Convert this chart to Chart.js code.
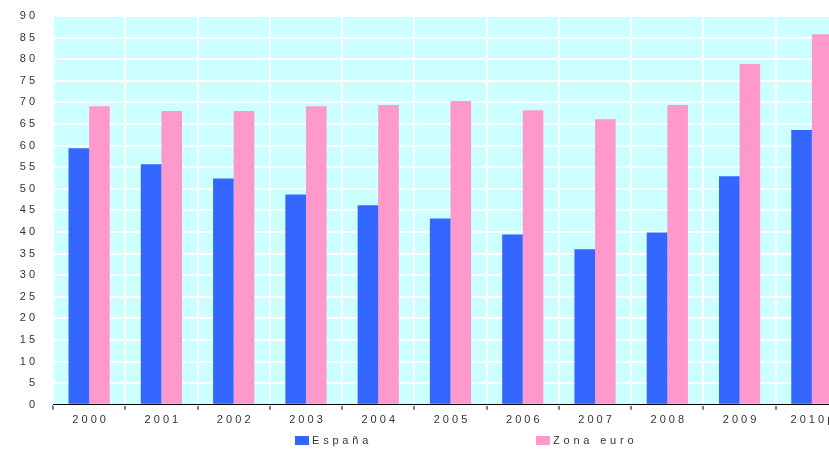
<!DOCTYPE html>
<html>
<head>
<meta charset="utf-8">
<script src="https://cdn.jsdelivr.net/npm/chart.js@4"></script>
<style>
  html, body { margin: 0; padding: 0; background: #fff; overflow: hidden; }
  #wrap { position: relative; width: 851px; height: 449px; }
  .legend { position: absolute; top: 434px; font: 11px "Liberation Sans", Arial, sans-serif; color: #333; letter-spacing: 3.8px; white-space: nowrap; }
  .legend span.sw { display: inline-block; width: 14px; height: 9px; vertical-align: -1px; margin-right: 3px; }
</style>
</head>
<body>
<div id="wrap">
  <canvas id="progress-chart" width="851" height="449"></canvas>
  <div class="legend" style="left:295px"><span class="sw" style="background:#3366FF"></span>España</div>
  <div class="legend" style="left:536px"><span class="sw" style="background:#FF99CC"></span>Zona euro</div>
</div>
<script>
const years = ["2000", "2001", "2002", "2003", "2004", "2005", "2006", "2007", "2008", "2009", "2010p"];
const espana = [59.4, 55.7, 52.4, 48.7, 46.2, 43.1, 39.4, 36.0, 39.9, 52.9, 63.6];
const zonaEuro = [69.1, 68.0, 68.0, 69.1, 69.4, 70.3, 68.2, 66.1, 69.4, 78.9, 85.8];

const spaced = s => String(s).split("").join(" ");

// light cyan background behind the plot
const plotBg = {
    id: "plotBg",
    beforeDraw(chart) {
        const a = chart.chartArea;
        const c = chart.ctx;
        c.save();
        c.fillStyle = "#CCFFFF";
        c.fillRect(a.left, a.top, a.right - a.left, a.bottom - a.top);
        c.restore();
    }
};

Chart.defaults.font.family = "'Liberation Sans', Arial, sans-serif";
Chart.defaults.font.size = 11;
Chart.defaults.color = "#333";

const ctx = document.getElementById("progress-chart").getContext("2d");
new Chart(ctx, {
    type: "bar",
    data: {
        labels: years,
        datasets: [
            { label: "España", data: espana, backgroundColor: "#3366FF", borderWidth: 0 },
            { label: "Zona euro", data: zonaEuro, backgroundColor: "#FF99CC", borderWidth: 0 }
        ]
    },
    options: {
        responsive: false,
        animation: false,
        categoryPercentage: 0.57,
        barPercentage: 1.0,
        layout: { padding: { top: 16, right: 3, bottom: 18, left: 0 } },
        plugins: { legend: { display: false }, tooltip: { enabled: false } },
        scales: {
            x: {
                offset: true,
                grid: { color: "#FFFFFF", lineWidth: 2, offset: true, drawTicks: true, tickLength: 5, tickColor: "#000", tickWidth: 1 },
                border: { color: "#000", width: 1 },
                ticks: { callback: function(v) { return spaced(this.getLabelForValue(v)); }, maxRotation: 0, autoSkip: false, padding: 4 }
            },
            y: {
                min: 0,
                max: 90,
                ticks: { stepSize: 5, padding: 18, callback: v => spaced(v) },
                grid: { color: "#FFFFFF", lineWidth: 2, drawTicks: false },
                border: { display: false },
                afterFit: s => { s.width = 53; s.paddingTop = 0; s.paddingBottom = 0; }
            }
        }
    },
    plugins: [plotBg]
});
</script>
</body>
</html>
